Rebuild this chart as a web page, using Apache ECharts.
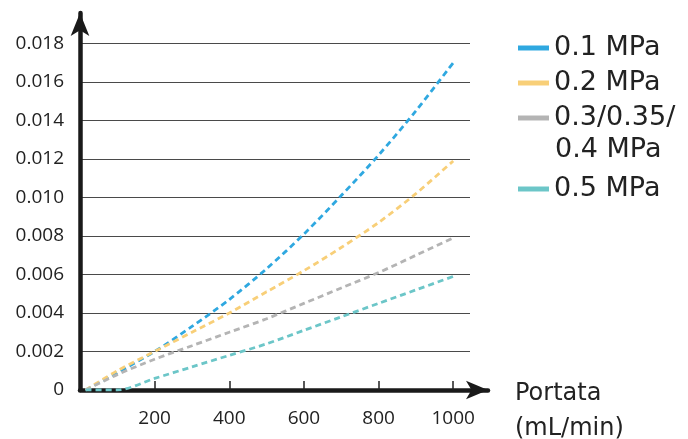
<!DOCTYPE html>
<html>
<head>
<meta charset="utf-8">
<script src="https://cdn.jsdelivr.net/npm/echarts@6/dist/echarts.min.js"></script>
<style>
  html, body { margin: 0; padding: 0; background: #ffffff; }
  #chart { width: 688px; height: 439px; }
</style>
</head>
<body>
<div id="chart"></div>
<script>
// portata (mL/min)
const flow = [15, 100, 200, 300, 400, 500, 600, 700, 800, 900, 1000];
// pressure drop curves
const p01 = [0, 0.0009, 0.0020, 0.0033, 0.0047, 0.0063, 0.0081, 0.0101, 0.0122, 0.0145, 0.0170];
const p02 = [0, 0.0010, 0.0020, 0.0030, 0.0040, 0.0051, 0.0062, 0.0074, 0.0087, 0.0102, 0.0119];
const p03 = [0, 0.0008, 0.0016, 0.0023, 0.0030, 0.0037, 0.0045, 0.0053, 0.0061, 0.0070, 0.0079];
const p05 = [0, 0.0000, 0.0006, 0.0012, 0.0018, 0.0024, 0.0031, 0.0038, 0.0045, 0.0052, 0.0059];

const names = ['0.1 MPa', '0.2 MPa', '0.3/0.35/0.4 MPa', '0.5 MPa'];
const colors = ['#2fa8e0', '#f8cf78', '#b4b4b4', '#6cc6c8'];

const pairs = (ys) => flow.map((x, i) => [x, ys[i]]);

function line(name, ys, color) {
  return {
    name: name,
    type: 'line',
    xAxisIndex: 0,
    yAxisIndex: 0,
    smooth: 0.3,
    showSymbol: false,
    color: color,
    lineStyle: { color: color, width: 2.8, type: [6, 4] },
    data: pairs(ys)
  };
}

const chart = echarts.init(document.getElementById('chart'));

const legendText = { fontSize: 27, lineHeight: 35, fontFamily: 'DejaVu Sans', color: '#222' };

const option = {
  backgroundColor: '#ffffff',
  animation: false,
  grid: [
    { left: 80, top: 43.5, width: 390, bottom: 49 },   // data + grid lines
    { left: 80, top: 13, right: 200, bottom: 49 }      // only the arrowed axes
  ],
  xAxis: [{
    type: 'value',
    gridIndex: 0,
    min: 0,
    max: 1045,
    interval: 200,
    axisLine: { show: false },
    axisTick: { show: true, inside: true, length: 9, lineStyle: { color: '#222', width: 1.5 } },
    splitLine: { show: false },
    axisLabel: {
      showMinLabel: false,
      margin: 19,
      fontSize: 19,
      fontFamily: 'Open Sans',
      color: '#222',
      formatter: (v) => String(v)
    }
  }, {
    type: 'value',
    gridIndex: 1,
    min: 0,
    max: 1,
    axisLine: {
      show: true,
      symbol: ['none', 'arrow'],
      symbolSize: [14, 22],
      lineStyle: { color: '#1a1a1a', width: 4.5 }
    },
    axisTick: { show: false },
    axisLabel: { show: false },
    splitLine: { show: false }
  }],
  yAxis: [{
    type: 'value',
    gridIndex: 0,
    min: 0,
    max: 0.018,
    interval: 0.002,
    axisLine: { show: false },
    axisTick: { show: false },
    splitLine: { show: true, lineStyle: { color: '#4a4a4a', width: 1 } },
    axisLabel: {
      margin: 16,
      fontSize: 19,
      fontFamily: 'Open Sans',
      color: '#222',
      formatter: (v) => (v === 0 ? '0' : v.toFixed(3))
    }
  }, {
    type: 'value',
    gridIndex: 1,
    min: 0,
    max: 1,
    axisLine: {
      show: true,
      symbol: ['none', 'arrow'],
      symbolSize: [14, 23],
      lineStyle: { color: '#1a1a1a', width: 4.5 }
    },
    axisTick: { show: false },
    axisLabel: { show: false },
    splitLine: { show: false }
  }],
  legend: [{
    orient: 'vertical',
    left: 513,
    top: 25.5,
    itemGap: 0,
    itemWidth: 31,
    itemHeight: 5,
    icon: 'rect',
    data: names.slice(0, 3),
    formatter: (n) => (n === names[2] ? '0.3/0.35/' : n),
    textStyle: legendText
  }, {
    orient: 'vertical',
    left: 513,
    top: 166.5,
    itemGap: 0,
    itemWidth: 31,
    itemHeight: 5,
    icon: 'rect',
    data: names.slice(3),
    textStyle: legendText
  }],
  graphic: [{
    type: 'text',
    left: 555,
    top: 136,
    style: { text: '0.4 MPa', font: '27px "DejaVu Sans"', fill: '#222' }
  }, {
    type: 'text',
    left: 515,
    top: 376,
    style: { text: 'Portata\n(mL/min)', font: '24px "DejaVu Sans"', lineHeight: 35, fill: '#222' }
  }],
  series: [
    line(names[0], p01, colors[0]),
    line(names[1], p02, colors[1]),
    line(names[2], p03, colors[2]),
    line(names[3], p05, colors[3])
  ]
};

chart.setOption(option);
</script>
</body>
</html>
